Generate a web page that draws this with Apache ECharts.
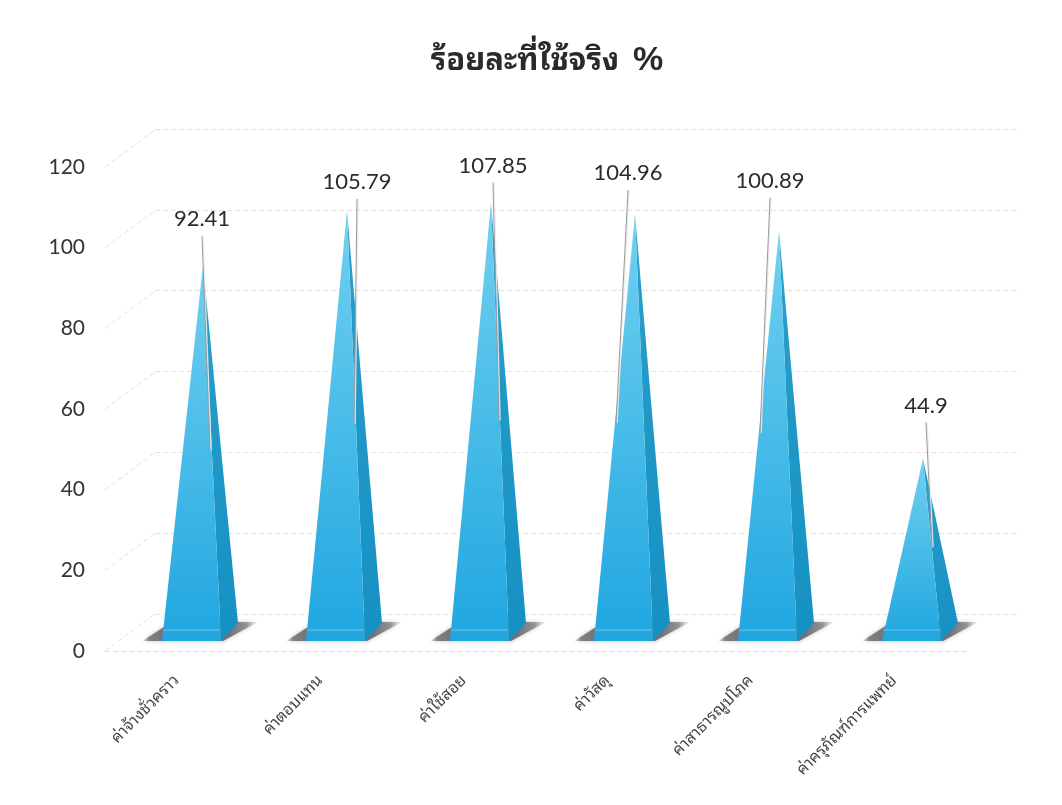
<!DOCTYPE html>
<html><head><meta charset="utf-8">
<style>html,body{margin:0;padding:0;background:#fff}#c{width:1062px;height:805px}</style>
<script src="https://cdn.jsdelivr.net/npm/echarts@6/dist/echarts.min.js"></script></head>
<body><div id="c"></div>
<script>
const categories = ["ค่าจ้างชั่วคราว","ค่าตอบแทน","ค่าใช้สอย","ค่าวัสดุ","ค่าสาธารณูปโภค","ค่าครุภัณฑ์การแพทย์"];
const percentUsed = [92.41,105.79,107.85,104.96,100.89,44.9];
const yTicks = [0,20,40,60,80,100,120];
const titleThai = "ร้อยละที่ใช้จริง";
const titleSign = "%";
// leader line offsets from each pyramid tip: [topDx, topDy, bottomDx, bottomDy]
const leaders = [[-1,-29,7,185],[10,-12,7,213],[2,-20,8,218],[-7,-24,-19,209],[-9,-33,-19,202],[3,-36,9,89]];

const thai = '"Noto Sans Thai Looped","Noto Sans Thai","Noto Sans","Liberation Sans","DejaVu Sans",sans-serif';
const GRID_LINE = '#e2e2e2';
const chart = echarts.init(document.getElementById('c'));

function pyramid(params, api){
  const v = api.value(1), i = api.value(0);
  const base = api.coord([i,0]), tip = api.coord([i,v]);
  const bx = base[0], by = base[1], tx = tip[0], ty = tip[1];
  const L = bx-41, R = bx+18, C = bx+35, back = by-18;
  const L2 = [L+(tx-L)*0.027, by-11], R2 = [R+(tx-R)*0.027, by-11];
  const l = leaders[params.dataIndex];
  const shade = new echarts.graphic.LinearGradient(0,0,1,0,[
    {offset:0,color:'rgba(120,120,130,0.05)'},{offset:0.06,color:'rgba(110,110,120,0.8)'},
    {offset:0.16,color:'#75757a'},{offset:0.75,color:'#727275'},
    {offset:0.9,color:'rgba(125,125,125,0.75)'},{offset:1,color:'rgba(150,150,150,0.05)'}]);
  return {type:'group', children:[
    {type:'polygon', shape:{points:[[L-20,by],[R+2,by],[C+20,back-1],[L+10,back-1]]},
     style:{fill:shade,shadowBlur:4,shadowColor:'rgba(120,120,130,0.5)'}},
    {type:'polygon', shape:{points:[[R,by],[C,back],[tx,ty]]},
     style:{fill:new echarts.graphic.LinearGradient(0,0,0,1,[{offset:0,color:'#2a9fcb'},{offset:1,color:'#1591c2'}])}},
    {type:'polygon', shape:{points:[[L,by],[R,by],[tx,ty]]},
     style:{fill:new echarts.graphic.LinearGradient(0,0,0,1,[{offset:0,color:'#72d0f0'},{offset:0.5,color:'#48bce8'},{offset:1,color:'#20a6e0'}])}},
    {type:'line', shape:{x1:L2[0],y1:L2[1],x2:R2[0],y2:R2[1]}, style:{stroke:'rgba(225,225,235,0.45)',lineWidth:1}},
    {type:'line', shape:{x1:tx+l[0]+1,y1:ty+l[1],x2:tx+l[2]+1,y2:ty+l[3]}, style:{stroke:'rgba(235,235,235,0.9)',lineWidth:1.5}},
    {type:'line', shape:{x1:tx+l[0],y1:ty+l[1],x2:tx+l[2],y2:ty+l[3]}, style:{stroke:'#9a9a9a',lineWidth:1}},
    {type:'text', style:{text:String(v),x:tx+l[0],y:ty+l[1]-17,align:'center',verticalAlign:'middle',
      font:'22px Lato, "Open Sans", sans-serif',fill:'#2b2b2b'}}
  ]};
}
function wall(params, api){
  const y = api.coord([0,api.value(0)])[1];
  const x = params.coordSys.x;
  return {type:'line', shape:{x1:x,y1:y,x2:x+50,y2:y-37},
    style:{stroke:GRID_LINE,lineWidth:1,lineDash:[5,3]}};
}
chart.setOption({
  animation:false,
  backgroundColor:'#fff',
  title:{text:'{a|'+titleThai+'}{b|'+titleSign+'}',left:542,top:39,textAlign:'center',
    textStyle:{rich:{a:{fontFamily:thai,fontSize:31,fontWeight:'bold',color:'#2a2a2a',padding:[0,14,0,0]},
      b:{fontFamily:'"Liberation Sans",sans-serif',fontSize:34,fontWeight:'bold',color:'#2a2a2a'}}}},
  grid:[
    {left:105,width:861,top:167,height:484},
    {left:155,width:865,top:129,height:485},
    {left:131,width:864,top:153,height:488}
  ],
  xAxis:[
    {gridIndex:0,type:'category',data:categories,axisTick:{show:false},
     axisLine:{lineStyle:{color:GRID_LINE,type:[5,3]}},
     axisLabel:{rotate:45,margin:27,interval:0,fontSize:16,fontFamily:thai,color:'#444'}},
    {gridIndex:1,type:'category',data:categories,show:false},
    {gridIndex:2,type:'category',data:categories,show:false}
  ],
  yAxis:[
    {gridIndex:0,type:'value',min:0,max:120,interval:20,splitLine:{show:false},axisLine:{show:false},axisTick:{show:false},
     axisLabel:{fontSize:21,margin:20,color:'#333',fontFamily:'Lato,"Open Sans",sans-serif'}},
    {gridIndex:1,type:'value',min:0,max:120,interval:20,axisLabel:{show:false},axisLine:{show:false},axisTick:{show:false},
     splitLine:{show:true,lineStyle:{color:GRID_LINE,type:[5,3]}}},
    {gridIndex:2,type:'value',min:0,max:120,interval:20,show:false,splitLine:{show:false}}
  ],
  series:[
    {type:'custom',xAxisIndex:0,yAxisIndex:0,data:yTicks.map(t=>[t]),encode:{y:0},renderItem:wall,silent:true,z:1},
    {type:'custom',name:'ร้อยละที่ใช้จริง',xAxisIndex:2,yAxisIndex:2,data:percentUsed.map((v,i)=>[i,v]),
     encode:{x:0,y:1},renderItem:pyramid,clip:false,z:5}
  ]
});
</script></body></html>
